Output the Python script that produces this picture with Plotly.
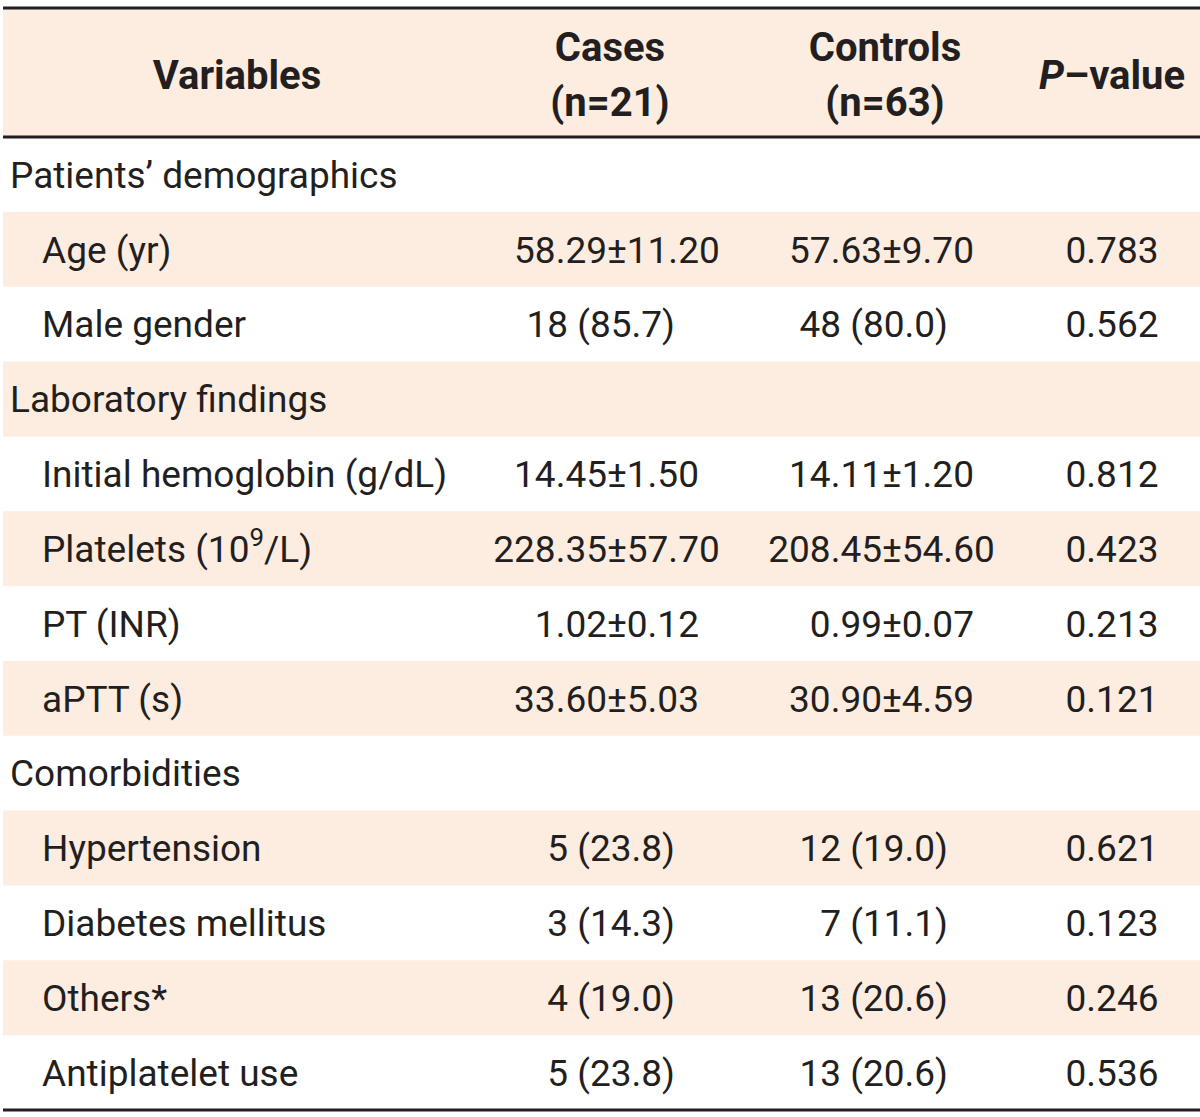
import plotly.graph_objects as go

# ---- data ----
header_lines = {
    "Variables": ["<b>Variables</b>"],
    "Cases": ["<b>Cases</b>", "<b>(n=21)</b>"],
    "Controls": ["<b>Controls</b>", "<b>(n=63)</b>"],
    "P": ["<b><i>P</i>–value</b>"],
}
variables = ["Patients’ demographics", "Age (yr)", "Male gender", "Laboratory findings",
             "Initial hemoglobin (g/dL)", "Platelets (10<sup>9</sup>/L)", "PT (INR)", "aPTT (s)",
             "Comorbidities", "Hypertension", "Diabetes mellitus", "Others*", "Antiplatelet use"]
is_section = [True, False, False, True, False, False, False, False, True, False, False, False, False]
cases = ["", "58.29±11.20", "18 (85.7)", "", "14.45±1.50", "228.35±57.70", "1.02±0.12",
         "33.60±5.03", "", "5 (23.8)", "3 (14.3)", "4 (19.0)", "5 (23.8)"]
controls = ["", "57.63±9.70", "48 (80.0)", "", "14.11±1.20", "208.45±54.60", "0.99±0.07",
            "30.90±4.59", "", "12 (19.0)", "7 (11.1)", "13 (20.6)", "13 (20.6)"]
pvalues = ["", "0.783", "0.562", "", "0.812", "0.423", "0.213", "0.121", "", "0.621",
           "0.123", "0.246", "0.536"]

# ---- styling / layout constants (pixels) ----
SHADE = "#FDECE0"
TXT = "#231F20"
FONT = "Roboto"
FS = 37
HFS = 40
W, H = 1200, 1117
TOP_PX, HDR_PX, BOT_PX = 8, 137, 1110
TEXT_DY = 4  # px nudge so text sits visually centred in its row
n = len(variables)
ROW_PX = (BOT_PX - HDR_PX) / n
HDR_ROWS = (HDR_PX - TOP_PX) / ROW_PX
DY = TEXT_DY / ROW_PX


def y_of(px):
    """pixel row -> y-axis value (body row i is centred on y=i)"""
    return -0.5 + (px - HDR_PX) / ROW_PX


X_SEC, X_ITEM = 10, 42
X_PM = {"cases": 607, "controls": 882}
X_PCT = {"cases": 675, "controls": 948}
X_P = 1112
X_HDR = {"Variables": 237, "Cases": 610, "Controls": 885, "P": 1112}

fig = go.Figure()

# shaded rows (alternating) + header band
shaded = [i for i in range(n) if i % 2 == 1]
fig.add_trace(go.Bar(
    y=shaded, x=[W - 3] * len(shaded), base=3, orientation="h", width=1,
    marker=dict(color=SHADE, line=dict(width=0)), hoverinfo="skip", showlegend=False))
fig.add_trace(go.Bar(
    y=[-0.5 - HDR_ROWS / 2], x=[W - 3], base=3, orientation="h", width=HDR_ROWS,
    marker=dict(color=SHADE, line=dict(width=0)), hoverinfo="skip", showlegend=False))


def text_trace(xs, ys, texts, pos, size=FS):
    fig.add_trace(go.Scatter(
        x=xs, y=[y + DY for y in ys], text=texts, mode="text", textposition=pos,
        textfont=dict(family=FONT, size=size, color=TXT),
        hoverinfo="skip", showlegend=False, cliponaxis=False))


# variable column
text_trace([X_SEC if s else X_ITEM for s in is_section], list(range(n)), variables, "middle right")

# value columns
for key, col in (("cases", cases), ("controls", controls)):
    lx, ly, lt, rx, ry, rt, px_, py, pt = [], [], [], [], [], [], [], [], []
    for i, s in enumerate(col):
        if not s:
            continue
        if "±" in s:
            a, b = s.split("±")
            lx.append(X_PM[key]); ly.append(i); lt.append(a)
            rx.append(X_PM[key]); ry.append(i); rt.append("±" + b)
        else:
            px_.append(X_PCT[key]); py.append(i); pt.append(s)
    text_trace(lx, ly, lt, "middle left")
    text_trace(rx, ry, rt, "middle right")
    text_trace(px_, py, pt, "middle left")

# p-values
pi = [i for i, v in enumerate(pvalues) if v]
text_trace([X_P] * len(pi), pi, [pvalues[i] for i in pi], "middle center")

# header
for key, lines in header_lines.items():
    if len(lines) == 1:
        ys = [y_of(75)]
    else:
        ys = [y_of(47), y_of(102)]
    text_trace([X_HDR[key]] * len(lines), ys, lines, "middle center", size=HFS)

# rules
for px in (TOP_PX, HDR_PX, BOT_PX):
    fig.add_shape(type="line", xref="x", yref="y", x0=3, x1=W, y0=y_of(px), y1=y_of(px),
                  line=dict(color=TXT, width=3), layer="above")

fig.update_layout(
    width=W, height=H,
    margin=dict(l=0, r=0, t=0, b=0),
    paper_bgcolor="white", plot_bgcolor="white",
    barmode="overlay",
    xaxis=dict(range=[0, W], visible=False, fixedrange=True),
    yaxis=dict(range=[y_of(H), y_of(0)], visible=False, fixedrange=True),
)

fig.write_html("out.html", config={"displayModeBar": False},
               post_script="document.body.style.margin='0';document.body.style.overflow='hidden';")
